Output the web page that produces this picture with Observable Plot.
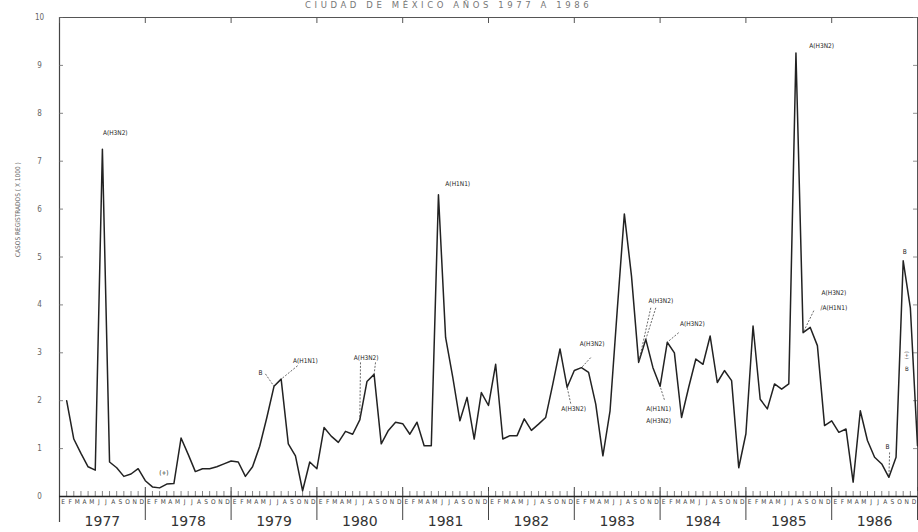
<!DOCTYPE html>
<html>
<head>
<meta charset="utf-8">
<script src="https://cdn.jsdelivr.net/npm/d3@7"></script>
<script src="https://cdn.jsdelivr.net/npm/@observablehq/plot@0.6"></script>
<style>
  body { margin: 0; background: #fff; }
  #title { height: 9px; width: 918px; position: relative; }
  #title span { position: absolute; left: 305px; top: 0px; white-space: nowrap; line-height: 9px;
    font: 8.5px "DejaVu Sans", sans-serif; letter-spacing: 3.6px; color: #777; }
</style>
</head>
<body>
<div id="title"><span>CIUDAD DE MÉXICO AÑOS 1977 A 1986</span></div>
<div id="chart"></div>
<script>
const years = [1977, 1978, 1979, 1980, 1981, 1982, 1983, 1984, 1985, 1986];
const monthLetters = ["E","F","M","A","M","J","J","A","S","O","N","D"];
const yTicks = [0, 1, 2, 3, 4, 5, 6, 7, 8, 9, 10];
// monthly registered cases (x 1000), Jan 1977 .. Dec 1986
const cases = [
  2.0, 1.2, 0.9, 0.62, 0.55, 7.25, 0.72, 0.6, 0.42, 0.47, 0.58, 0.33,
  0.2, 0.18, 0.26, 0.27, 1.22, 0.88, 0.52, 0.58, 0.58, 0.62, 0.68, 0.74,
  0.72, 0.42, 0.62, 1.05, 1.65, 2.3, 2.45, 1.1, 0.85, 0.12, 0.72, 0.58,
  1.44, 1.26, 1.13, 1.36, 1.3, 1.6, 2.4, 2.55, 1.1, 1.38, 1.55, 1.52,
  1.3, 1.55, 1.06, 1.06, 6.3, 3.32, 2.49, 1.58, 2.07, 1.2, 2.17, 1.9,
  2.76, 1.2, 1.27, 1.27, 1.62, 1.38, 1.51, 1.65, 2.35, 3.08, 2.28, 2.63,
  2.69, 2.59, 1.93, 0.85, 1.79, 3.88, 5.9, 4.6, 2.8, 3.28, 2.69, 2.3,
  3.22, 3.0, 1.65, 2.28, 2.87, 2.76, 3.35, 2.38, 2.63, 2.42, 0.6, 1.31,
  3.56, 2.03, 1.83, 2.35, 2.24, 2.35, 9.26, 3.42, 3.53, 3.15, 1.48, 1.58,
  1.34, 1.41, 0.3, 1.79, 1.17, 0.82, 0.68, 0.4, 0.82, 4.92, 3.94, 1.06
];
// annotations (virus types), label anchor in data units (month index, value)
const annotLabels = ["A(H3N2)","(+)","B","A(H1N1)","A(H3N2)","A(H1N1)","A(H3N2)","A(H3N2)","A(H3N2)","A(H1N1)","A(H3N2)","A(H3N2)","A(H3N2)","A(H3N2)","/A(H1N1)","B","B"];
const annotMonth  = [6.8, 13.6, 27.1, 33.4, 41.9, 54.7, 73.5, 70.9, 83.1, 82.8, 82.8, 87.5, 105.6, 107.3, 107.3, 117.2, 114.8];
const annotValue  = [7.6, 0.5, 2.58, 2.83, 2.9, 6.52, 3.19, 1.83, 4.08, 1.83, 1.58, 3.6, 9.4, 4.25, 3.94, 5.1, 1.04];
// leader lines: start (month, value) -> data point index
const leaderMonth = [27.8, 32.3, 41.1, 43.2, 73.3, 70.5, 81.7, 82.4, 83.6, 85.6, 104.5, 115.1];
const leaderValue = [2.56, 2.73, 2.8, 2.8, 2.9, 1.94, 3.94, 3.94, 2.02, 3.42, 3.88, 0.92];
const leaderTarget = [29, 30, 41, 43, 72, 70, 80, 81, 83, 84, 103, 115];

const data = cases.map((v, i) => ({i, v}));
const monthIdx = d3.range(120);
const yearStarts = years.map((y, k) => 12 * k - 1).concat([119]);
const annots = annotLabels.map((t, k) => ({t, x: annotMonth[k], y: annotValue[k]}));
const leaders = leaderTarget.map((idx, k) => ({x1: leaderMonth[k], y1: leaderValue[k], x2: idx, y2: cases[idx]}));

const ink = "#222";
const small = "DejaVu Sans Condensed, Liberation Sans Narrow, DejaVu Sans, sans-serif";

const chart = Plot.plot({
  width: 918,
  height: 523,
  marginTop: 8,
  marginBottom: 36,
  marginLeft: 59,
  marginRight: 1,
  x: {domain: [-1, 119], axis: null},
  y: {domain: [0, 10], axis: null},
  style: {background: "#fff", fontFamily: "DejaVu Sans, sans-serif", overflow: "visible"},
  marks: [
    Plot.frame({stroke: "#555", strokeWidth: 1}),
    // left axis extended below
    Plot.tickX([-1], {x: d => d, stroke: "#444", strokeWidth: 1.2, insetBottom: -26}),
    // year separators below axis
    Plot.tickX(yearStarts, {x: d => d, stroke: "#444", strokeWidth: 1, insetTop: 470, insetBottom: -24}),
    // year ticks on top
    Plot.tickX(yearStarts, {x: d => d, stroke: "#555", strokeWidth: 1, insetBottom: 473}),
    // month ticks
    Plot.tickX(monthIdx, {x: d => d, stroke: "#666", strokeWidth: 0.8, insetTop: 474}),
    // y ticks inside left and right
    Plot.tickY(yTicks, {y: d => d, stroke: "#666", strokeWidth: 0.8, insetRight: 854}),
    Plot.tickY(yTicks, {y: d => d, stroke: "#777", strokeWidth: 0.8, insetLeft: 854}),
    Plot.ruleY([0], {stroke: "#222", strokeWidth: 1.6}),
    Plot.text(yTicks, {y: d => d, text: d => String(d), frameAnchor: "left", dx: -20, textAnchor: "middle", fontSize: 8, fill: "#666", fontFamily: small}),
    Plot.text(["CASOS REGISTRADOS ( X 1000 )"], {frameAnchor: "left", dx: -42, rotate: -90, fontSize: 6.5, fill: "#666", fontFamily: small, text: d => d}),
    Plot.text(monthIdx, {x: d => d - 0.5, text: d => monthLetters[d % 12], frameAnchor: "bottom", dy: 7, fontSize: 6.5, fill: "#444", fontFamily: small}),
    Plot.text(years, {x: (d, k) => 12 * k + 5, text: d => String(d), frameAnchor: "bottom", dy: 29, fontSize: 14, fill: "#333", letterSpacing: 1.5}),
    Plot.line(data, {x: "i", y: "v", stroke: ink, strokeWidth: 1.5, strokeLinejoin: "round"}),
    Plot.link(leaders, {x1: "x1", y1: "y1", x2: "x2", y2: "y2", stroke: "#444", strokeWidth: 0.8, strokeDasharray: "2,1.5"}),
    Plot.text(annots, {x: "x", y: "y", text: "t", fontSize: 6.5, fill: "#222", fontFamily: small, letterSpacing: 0.6}),
    Plot.text(["(+)"], {x: [117.5], y: [2.95], text: d => d, rotate: 90, fontSize: 5.5, fill: "#444", fontFamily: small}),
    Plot.text(["B"], {x: [117.5], y: [2.65], text: d => d, fontSize: 6, fill: "#222", fontFamily: small})
  ]
});
document.getElementById("chart").appendChild(chart);
</script>
</body>
</html>
